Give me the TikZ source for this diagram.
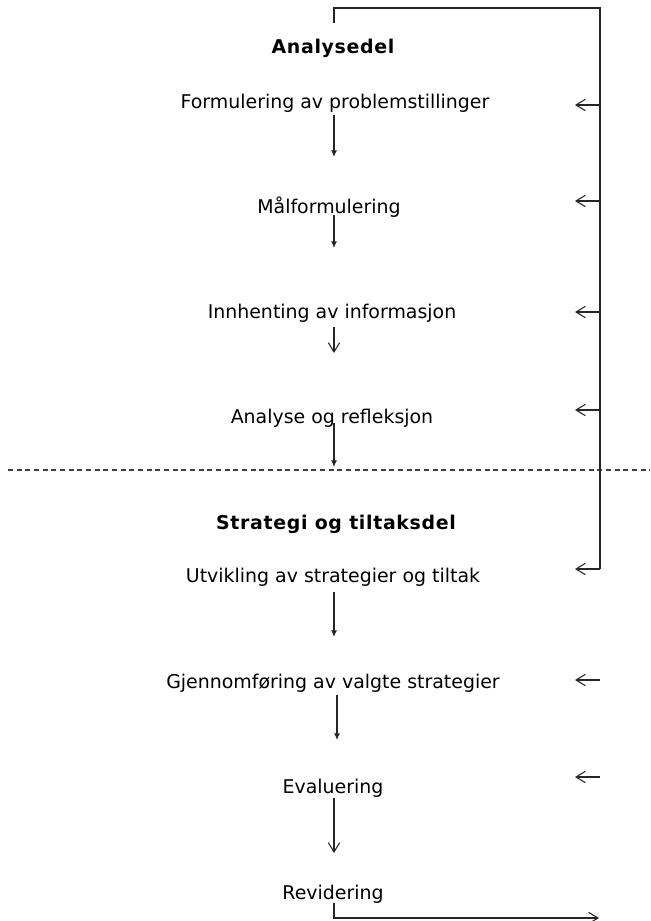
\documentclass[tikz,border=0pt]{standalone}
\usepackage{fontspec}
\setmainfont{DejaVu Sans}
\usetikzlibrary{arrows.meta}
\begin{document}
\begin{tikzpicture}[x=0.75pt,y=-0.75pt,
 lbl/.style={font=\fontsize{14.2}{17}\selectfont, inner sep=0pt, anchor=base},
 hd/.style={inner sep=0pt, anchor=base, font=\fontsize{14.2}{17}\selectfont\bfseries\addfontfeature{LetterSpace=3.5}},
 ln/.style={draw=black!85, line width=0.8pt},
 solidarr/.style={ln, -{Latex[length=5pt,width=4.5pt]}},
 openarr/.style={ln, -{Straight Barb[length=7pt,width=8.5pt]}},
]
\useasboundingbox (0,0) rectangle (650,921);

% texts
\node[hd]  (analyse) at (333,53)  {Analysedel};
\node[lbl] (form)    at (335,108) {Formulering av problemstillinger};
\node[lbl] (maal)    at (329,213) {Målformulering};
\node[lbl] (innh)    at (332,318) {Innhenting av informasjon};
\node[lbl] (anref)   at (332,423) {Analyse og refleksjon};
\node[hd]  (strat)   at (336,529) {Strategi og tiltaksdel};
\node[lbl] (utv)     at (333,582) {Utvikling av strategier og tiltak};
\node[lbl] (gjen)    at (333,688) {Gjennomføring av valgte strategier};
\node[lbl] (eval)    at (333,793) {Evaluering};
\node[lbl] (rev)     at (333,899) {Revidering};

% vertical flow arrows
\coordinate (a1s) at (334,115); \coordinate (a1e) at (334,157);
\coordinate (a2s) at (334,215); \coordinate (a2e) at (334,248);
\coordinate (a3s) at (334,327); \coordinate (a3e) at (334,353);
\coordinate (a4s) at (334,423); \coordinate (a4e) at (334,467);
\coordinate (a5s) at (334,592); \coordinate (a5e) at (334,637);
\coordinate (a6s) at (337,695); \coordinate (a6e) at (337,740);
\coordinate (a7s) at (334,798); \coordinate (a7e) at (334,853);
\draw[solidarr] (a1s) -- (a1e);
\draw[solidarr] (a2s) -- (a2e);
\draw[openarr]  (a3s) -- (a3e);
\draw[solidarr] (a4s) -- (a4e);
\draw[solidarr] (a5s) -- (a5e);
\draw[solidarr] (a6s) -- (a6e);
\draw[openarr]  (a7s) -- (a7e);

% dashed separator
\coordinate (dl) at (8,470); \coordinate (dr) at (650,470);
\draw[draw=black!75, line width=0.9pt, dash pattern=on 3.8pt off 2.7pt] (dl) -- (dr);

% feedback loop
\coordinate (tl) at (334,23);
\coordinate (tr) at (600,8);
\coordinate (fb1) at (600,105); \coordinate (t1) at (575,105);
\coordinate (fb2) at (600,201); \coordinate (t2) at (575,201);
\coordinate (fb3) at (600,312); \coordinate (t3) at (575,312);
\coordinate (fb4) at (600,410); \coordinate (t4) at (575,410);
\coordinate (fb5) at (600,569); \coordinate (t5) at (575,569);
\coordinate (fb6) at (600,680); \coordinate (t6) at (575,680);
\coordinate (fb7) at (600,777); \coordinate (t7) at (575,777);
\draw[ln] (tl) |- (tr) -- (fb5);
\draw[openarr] (fb1) -- (t1);
\draw[openarr] (fb2) -- (t2);
\draw[openarr] (fb3) -- (t3);
\draw[openarr] (fb4) -- (t4);
\draw[openarr] (fb5) -- (t5);
\draw[openarr] (fb6) -- (t6);
\draw[openarr] (fb7) -- (t7);

% bottom return
\coordinate (rs) at (334,903); \coordinate (re) at (599,918);
\draw[openarr] (rs) |- (re);
\end{tikzpicture}
\end{document}
